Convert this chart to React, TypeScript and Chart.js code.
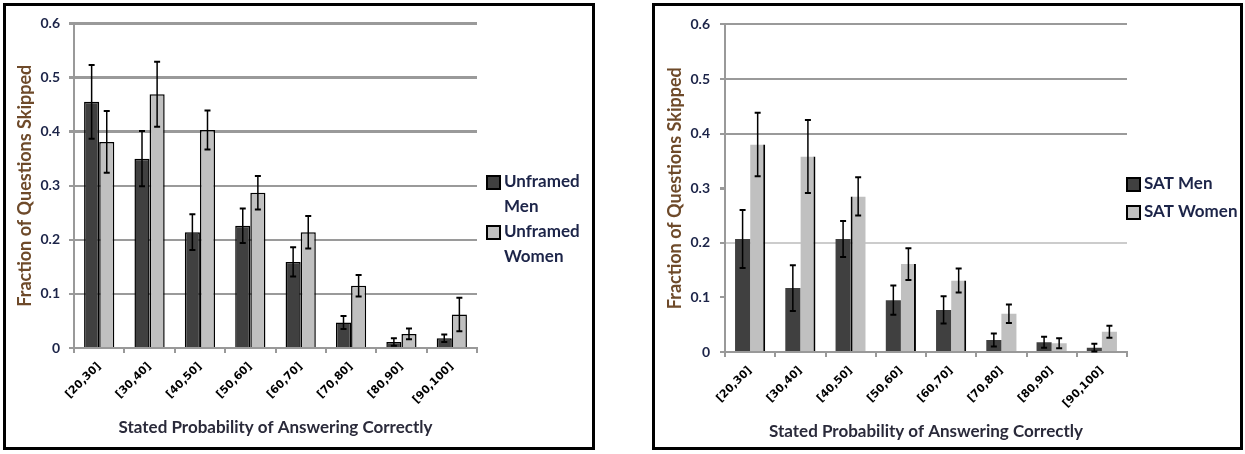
import React, { useEffect, useRef } from 'react';
import { Chart, registerables } from 'chart.js';

Chart.register(...registerables);

const categories = ['[20,30]', '[30,40]', '[40,50]', '[50,60]', '[60,70]', '[70,80]', '[80,90]', '[90,100]'];

const unframedMen = [0.455, 0.350, 0.214, 0.226, 0.159, 0.047, 0.011, 0.018];
const unframedMenErr = [0.068, 0.051, 0.033, 0.032, 0.027, 0.012, 0.007, 0.007];
const unframedWomen = [0.381, 0.469, 0.403, 0.287, 0.214, 0.115, 0.026, 0.062];
const unframedWomenErr = [0.057, 0.060, 0.036, 0.031, 0.030, 0.020, 0.010, 0.031];

const satMen = [0.207, 0.117, 0.207, 0.095, 0.077, 0.022, 0.018, 0.008];
const satMenErr = [0.053, 0.042, 0.033, 0.027, 0.025, 0.012, 0.010, 0.007];
const satWomen = [0.380, 0.358, 0.285, 0.161, 0.131, 0.070, 0.016, 0.037];
const satWomenErr = [0.058, 0.067, 0.035, 0.029, 0.022, 0.017, 0.009, 0.011];

const yTicks = [0, 0.1, 0.2, 0.3, 0.4, 0.5, 0.6];

const TEXT = '#1c2448';
const YTITLE = '#6e4a2a';
const XTITLE = '#2a2a3a';
const DARK = '#404040';
const LIGHT = '#c0c0c0';
const FONT = 'Lato, "Open Sans", sans-serif';
const TICKFONT = '"DejaVu Sans", Lato, sans-serif';

function errorBarsPlugin(errs: number[][]) {
  return {
    id: 'errorBars',
    afterDatasetsDraw(chart: any) {
      const ctx = chart.ctx;
      const y = chart.scales.y;
      chart.data.datasets.forEach((ds: any, di: number) => {
        const meta = chart.getDatasetMeta(di);
        meta.data.forEach((el: any, i: number) => {
          const v = ds.data[i];
          const e = errs[di][i];
          const x = el.x;
          const yt = y.getPixelForValue(v + e);
          const yb = y.getPixelForValue(Math.max(0, v - e));
          ctx.save();
          ctx.strokeStyle = '#000';
          ctx.lineWidth = 1.5;
          ctx.beginPath();
          ctx.moveTo(x, yt);
          ctx.lineTo(x, yb);
          ctx.stroke();
          ctx.lineWidth = 2;
          ctx.beginPath();
          ctx.moveTo(x - 3, yt);
          ctx.lineTo(x + 3, yt);
          ctx.moveTo(x - 3, yb);
          ctx.lineTo(x + 3, yb);
          ctx.stroke();
          ctx.restore();
        });
      });
    },
  };
}

type LegendItem = { color: string; lines: string[]; y: number };

function legendPlugin(items: LegendItem[], markerDx: number, lineH: number) {
  return {
    id: 'customLegend',
    afterDraw(chart: any) {
      const ctx = chart.ctx;
      const x0 = chart.chartArea.right + markerDx;
      ctx.save();
      items.forEach((it) => {
        ctx.fillStyle = it.color;
        ctx.fillRect(x0, it.y - 6, 13, 13);
        ctx.strokeStyle = '#000';
        ctx.lineWidth = 2;
        ctx.strokeRect(x0, it.y - 6, 13, 13);
        ctx.fillStyle = TEXT;
        ctx.font = `bold 17px ${FONT}`;
        ctx.textBaseline = 'middle';
        ctx.textAlign = 'left';
        it.lines.forEach((ln, k) => {
          ctx.fillText(ln, x0 + 17, it.y + k * lineH);
        });
      });
      ctx.restore();
    },
  };
}

function makeConfig(opts: {
  men: number[];
  women: number[];
  menBorder: any;
  womenBorder: any;
  yWidth: number;
  xHeight: number;
  padRight: number;
  gridColor: (v: number) => string;
  gridWidth: (v: number) => number;
  tickColor: (v: number) => string;
  yTitlePad: number;
  xTitlePad: number;
  yTickPad: number;
  plugins: any[];
}) {
  return {
    type: 'bar',
    data: {
      labels: categories,
      datasets: [
        {
          label: 'Men',
          data: opts.men,
          backgroundColor: DARK,
          borderColor: '#000',
          borderWidth: opts.menBorder,
          categoryPercentage: 0.6,
          barPercentage: 1.0,
        },
        {
          label: 'Women',
          data: opts.women,
          backgroundColor: LIGHT,
          borderColor: '#000',
          borderWidth: opts.womenBorder,
          categoryPercentage: 0.6,
          barPercentage: 1.0,
        },
      ],
    },
    options: {
      responsive: false,
      animation: false,
      layout: { padding: { left: 0, top: 13, right: opts.padRight, bottom: 0 } },
      plugins: { legend: { display: false }, tooltip: { enabled: false } },
      scales: {
        x: {
          grid: { drawOnChartArea: false, drawTicks: true, tickLength: 5, color: '#999', lineWidth: 2, offset: true },
          border: { color: '#999', width: 2 },
          ticks: {
            minRotation: 45,
            maxRotation: 45,
            autoSkip: false,
            color: '#000',
            padding: 7,
            font: { family: TICKFONT, size: 11, weight: 'bold' },
          },
          title: {
            display: true,
            text: 'Stated Probability of Answering Correctly',
            color: XTITLE,
            font: { family: FONT, size: 17, weight: 'bold' },
            padding: { top: 0, bottom: opts.xTitlePad },
          },
          afterFit: (s: any) => {
            s.height = opts.xHeight;
          },
        },
        y: {
          min: 0,
          max: 0.6,
          afterBuildTicks: (s: any) => {
            s.ticks = yTicks.map((v) => ({ value: v }));
          },
          ticks: {
            color: TEXT,
            padding: opts.yTickPad,
            font: { family: FONT, size: 14, weight: 'bold' },
            callback: (v: any) => (Number(v) === 0 ? '0' : Number(v).toFixed(1)),
          },
          grid: {
            color: (c: any) => opts.gridColor(c.tick ? c.tick.value : 0),
            lineWidth: (c: any) => opts.gridWidth(c.tick ? c.tick.value : 0),
            tickColor: (c: any) => opts.tickColor(c.tick ? c.tick.value : 0),
            tickLength: 5,
          },
          border: { color: '#999', width: 2 },
          title: {
            display: true,
            text: 'Fraction of Questions Skipped',
            color: YTITLE,
            font: { family: FONT, size: 18, weight: 'bold' },
            padding: { top: opts.yTitlePad, bottom: 0 },
          },
          afterFit: (s: any) => {
            s.width = opts.yWidth;
          },
        },
      },
    },
    plugins: opts.plugins,
  } as any;
}

function ChartPanel(props: { left: number; width: number; config: () => any }) {
  const ref = useRef<HTMLCanvasElement | null>(null);
  const w = props.width - 6;
  const h = 447 - 6;
  useEffect(() => {
    if (!ref.current) return;
    const chart = new Chart(ref.current, props.config());
    return () => chart.destroy();
  }, []);
  return (
    <div
      style={{
        position: 'absolute',
        left: props.left,
        top: 3,
        width: props.width,
        height: 447,
        boxSizing: 'border-box',
        border: '3px solid #000',
        background: '#fff',
      }}
    >
      <canvas ref={ref} width={w} height={h} style={{ display: 'block', width: w, height: h }} />
    </div>
  );
}

export default function App() {
  const leftConfig = () =>
    makeConfig({
      men: unframedMen,
      women: unframedWomen,
      menBorder: 1.5,
      womenBorder: 1.5,
      yWidth: 68,
      xHeight: 99,
      padRight: 115,
      gridColor: (v) => (v === 0 ? 'transparent' : '#9a9a9a'),
      gridWidth: (v) => (v > 0.35 ? 3 : 2),
      tickColor: () => '#9a9a9a',
      yTitlePad: 8,
      xTitlePad: 9,
      yTickPad: 9,
      plugins: [
        errorBarsPlugin([unframedMenErr, unframedWomenErr]),
        legendPlugin(
          [
            { color: DARK, lines: ['Unframed', 'Men'], y: 176 },
            { color: LIGHT, lines: ['Unframed', 'Women'], y: 226 },
          ],
          10,
          25
        ),
      ],
    });

  const womenRightBorders = [
    { right: 2 },
    { right: 2 },
    { left: 2 },
    { right: 2 },
    { right: 2 },
    0,
    0,
    0,
  ];

  const rightConfig = () =>
    makeConfig({
      men: satMen,
      women: satWomen,
      menBorder: 0,
      womenBorder: (c: any) => womenRightBorders[c.dataIndex] ?? 0,
      yWidth: 70,
      xHeight: 95,
      padRight: 113,
      gridColor: (v) => {
        if (Math.abs(v - 0.1) < 0.01 || Math.abs(v - 0.3) < 0.01 || v === 0) return 'transparent';
        if (Math.abs(v - 0.2) < 0.01) return '#cccccc';
        return '#9a9a9a';
      },
      gridWidth: (v) => (Math.abs(v - 0.3) < 0.01 ? 3 : 2),
      tickColor: () => '#9a9a9a',
      yTitlePad: 9,
      xTitlePad: 5,
      yTickPad: 10,
      plugins: [
        errorBarsPlugin([satMenErr, satWomenErr]),
        legendPlugin(
          [
            { color: DARK, lines: ['SAT Men'], y: 178 },
            { color: LIGHT, lines: ['SAT Women'], y: 206 },
          ],
          0,
          25
        ),
      ],
    });

  return (
    <div style={{ position: 'absolute', left: 0, top: 0, width: 1245, height: 454, background: '#fff' }}>
      <ChartPanel left={3} width={592} config={leftConfig} />
      <ChartPanel left={652} width={591} config={rightConfig} />
    </div>
  );
}
